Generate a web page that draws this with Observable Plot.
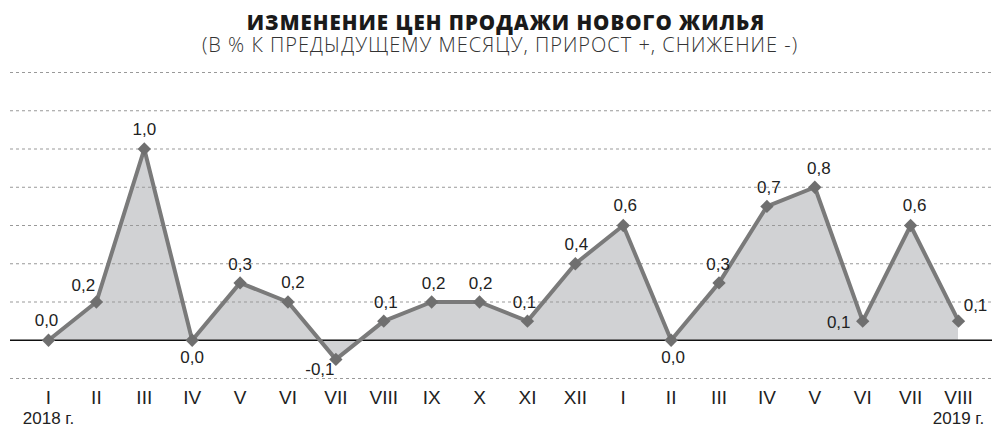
<!DOCTYPE html>
<html>
<head>
<meta charset="utf-8">
<script src="https://cdn.jsdelivr.net/npm/d3@7"></script>
<script src="https://cdn.jsdelivr.net/npm/@observablehq/plot@0.6"></script>
<style>
  html, body { margin: 0; padding: 0; background: #fff; }
  #wrap { width: 992px; height: 428px; position: relative; overflow: hidden; }
  #head { position: relative; height: 60px; }
  #title { position: absolute; left: 10px; width: 992px; top: 13px; text-align: center;
           font-family: "Open Sans", sans-serif; font-weight: 800; font-size: 20.5px; line-height: 19px;
           letter-spacing: 1px; color: #1a1a1a; }
  #subtitle { position: absolute; left: 4px; width: 992px; top: 37.5px; text-align: center;
           font-family: "Open Sans", sans-serif; font-weight: 300; font-size: 20px; line-height: 14px;
           letter-spacing: 1px; color: #333; }
</style>
</head>
<body>
<div id="wrap">
  <div id="head">
    <div id="title">ИЗМЕНЕНИЕ ЦЕН ПРОДАЖИ НОВОГО ЖИЛЬЯ</div>
    <div id="subtitle">(В % К ПРЕДЫДУЩЕМУ МЕСЯЦУ, ПРИРОСТ +, СНИЖЕНИЕ -)</div>
  </div>
  <div id="chart"></div>
</div>
<script>
// ---- data ----
const months = ["I","II","III","IV","V","VI","VII","VIII","IX","X","XI","XII","I","II","III","IV","V","VI","VII","VIII"];
const values = [0.0, 0.2, 1.0, 0.0, 0.3, 0.2, -0.1, 0.1, 0.2, 0.2, 0.1, 0.4, 0.6, 0.0, 0.3, 0.7, 0.8, 0.1, 0.6, 0.1];
const yearLabels = ["2018 г.", "2019 г."];
const gridTicks = [-0.2, 0.2, 0.4, 0.6, 0.8, 1.0, 1.2, 1.4];

// ---- layout (label placement per point) ----
const labelDx = [-2, -13, 0, 0, 0, 5, -16, 2, 2, 1, -3, 1, 2, 2, -1, 2, 4, -24, 4, 17];
const labelDy = [-20, -16, -19, 17, -18, -19, 10, -19, -18, -18, -19, -19, -20, 17, -18, -19, -19, 1, -20, -16];

const table = months.map((m, i) => ({i, m, v: values[i], label: values[i].toFixed(1).replace(".", ","), dx: labelDx[i], dy: labelDy[i]}));
const years = [{i: 0, t: yearLabels[0]}, {i: months.length - 1, t: yearLabels[1]}];

const step = (958 - 48) / 19;
const narrow = "'Liberation Sans Narrow', 'Arial Narrow', sans-serif";

const chart = Plot.plot({
  width: 992,
  height: 368,
  marginLeft: 10,
  marginRight: 0,
  marginTop: 12,
  marginBottom: 50,
  style: {background: "transparent", overflow: "visible"},
  x: {type: "linear", domain: [-(48 - 10) / step, (992 - 48) / step], axis: null},
  y: {domain: [-0.2, 1.4], axis: null},
  marks: [
    Plot.areaY(table, {x: "i", y1: 0, y2: "v", fill: "#d1d2d4", curve: "linear"}),
    Plot.ruleY(gridTicks, {stroke: "#999", strokeWidth: 1, strokeDasharray: "3,3"}),
    Plot.ruleY([0], {stroke: "#111", strokeWidth: 1.3}),
    Plot.lineY(table, {x: "i", y: "v", stroke: "#7a7a7a", strokeWidth: 4, curve: "linear", strokeLinejoin: "round"}),
    Plot.dot(table, {x: "i", y: "v", symbol: "diamond2", r: 6, fill: "#6f6f6f", stroke: "none"}),
    ...table.map(d => Plot.text([d], {x: "i", y: "v", text: "label", dx: d.dx, dy: d.dy,
        fontSize: 17, fill: "#222", fontFamily: narrow})),
    Plot.axisX(d3.range(months.length), {tickFormat: i => months[i], tickSize: 0, tickPadding: 12,
        fontSize: 19, fontFamily: narrow, fill: "#222", label: null}),
    Plot.text(years, {x: "i", frameAnchor: "bottom", dy: 45, text: "t", fontSize: 17, fill: "#222", fontFamily: narrow})
  ]
});
document.getElementById("chart").appendChild(chart);
</script>
</body>
</html>
